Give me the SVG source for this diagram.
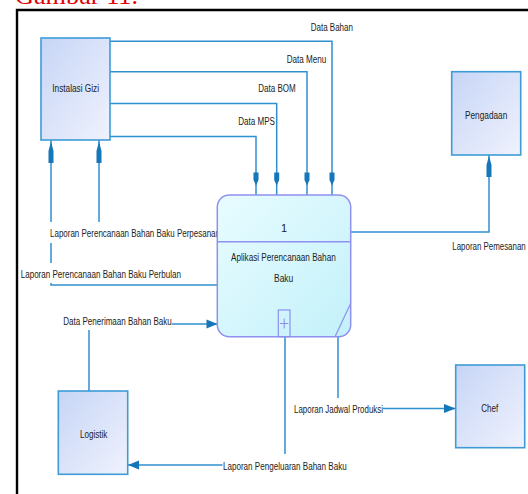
<svg xmlns="http://www.w3.org/2000/svg" width="528" height="494" viewBox="0 0 528 494">
<style>
.t{font-family:"Liberation Sans",Arial,sans-serif;font-size:11px;fill:#222}
.c{fill:none;stroke:#2f90d0;stroke-width:1.5}
.ah{fill:#1576b8}
.ent{stroke:#3e9bd6;stroke-width:1.6;fill:url(#ge)}
.bg{fill:#fff}
</style>
<defs>
<linearGradient id="ge" x1="0" y1="0" x2="1" y2="1">
<stop offset="0" stop-color="#c6d5f6"/>
<stop offset="1" stop-color="#f0f2fd"/>
</linearGradient>
<linearGradient id="gp" x1="0" y1="0" x2="1" y2="1">
<stop offset="0" stop-color="#e8fcff"/>
<stop offset="1" stop-color="#c3f1fa"/>
</linearGradient>
<clipPath id="cl"><rect x="40" y="215" width="177" height="30"/></clipPath>
</defs>
<rect width="528" height="494" fill="#fff"/>
<text x="15" y="4" font-family="'Liberation Serif',serif" font-size="25" fill="#e00000" textLength="123" lengthAdjust="spacingAndGlyphs">Gambar 11.</text>
<path d="M17,494 V10 H528" fill="none" stroke="#000" stroke-width="2.4"/>
<g id="connectors">
<path class="c" d="M110,41.3 H332 V196"/>
<path class="c" d="M110,71.7 H307 V196"/>
<path class="c" d="M110,103.5 H276.7 V196"/>
<path class="c" d="M110,136.5 H256 V196"/>
<path class="ah" d="M253.5,172.5 H258.5 V180 L256,185.5 L253.5,180 Z"/>
<path class="ah" d="M274.2,172.5 H279.2 V180 L276.7,185.5 L274.2,180 Z"/>
<path class="ah" d="M304.5,172.5 H309.5 V180 L307,185.5 L304.5,180 Z"/>
<path class="ah" d="M329.5,172.5 H334.5 V180 L332,185.5 L329.5,180 Z"/>
<path class="c" d="M217,234 H99 V140"/>
<path class="ah" d="M99,141.5 L101.5,151 V163 H96.5 V151 Z"/>
<path class="c" d="M217,285 H51 V140"/>
<path class="ah" d="M51,141.5 L53.5,151 V163 H48.5 V151 Z"/>
<path class="c" d="M89,392 V324 H217"/>
<path class="ah" d="M217.5,324 L206.5,319.5 V328.5 Z"/>
<path class="c" d="M351,232 H489 V155"/>
<path class="ah" d="M489,156 L491.5,165 V177 H486.5 V165 Z"/>
<path class="c" d="M338,337 V408.5 H455"/>
<path class="ah" d="M455.5,408.5 L444,404 V413 Z"/>
<path class="c" d="M285,337 V465 H128"/>
<path class="ah" d="M128,465 L139,460.5 V469.5 Z"/>
<rect class="bg" x="47" y="222" width="171" height="21"/>
<text class="t" x="50" y="236.5" textLength="170" lengthAdjust="spacingAndGlyphs" clip-path="url(#cl)">Laporan Perencanaan Bahan Baku Perpesanan</text>
<rect class="bg" x="19" y="263" width="164" height="20"/>
<text class="t" x="20.7" y="278" textLength="160.3" lengthAdjust="spacingAndGlyphs">Laporan Perencanaan Bahan Baku Perbulan</text>
<rect class="bg" x="62" y="313" width="110" height="17"/>
<text class="t" x="63.3" y="324.5" textLength="108.4" lengthAdjust="spacingAndGlyphs">Data Penerimaan Bahan Baku</text>
<rect class="bg" x="222.5" y="454" width="125" height="20"/>
<text class="t" x="223" y="470" textLength="123.7" lengthAdjust="spacingAndGlyphs">Laporan Pengeluaran Bahan Baku</text>
<rect class="bg" x="293" y="398" width="90" height="20"/>
<text class="t" x="294" y="413" textLength="89" lengthAdjust="spacingAndGlyphs">Laporan Jadwal Produksi</text>
<text class="t" x="452.3" y="250" textLength="73.4" lengthAdjust="spacingAndGlyphs">Laporan Pemesanan</text>
<text class="t" x="310.7" y="31" textLength="42.3" lengthAdjust="spacingAndGlyphs">Data Bahan</text>
<text class="t" x="286.7" y="62.5" textLength="39.6" lengthAdjust="spacingAndGlyphs">Data Menu</text>
<text class="t" x="258.3" y="92" textLength="37.4" lengthAdjust="spacingAndGlyphs">Data BOM</text>
<text class="t" x="238.3" y="124.5" textLength="36.7" lengthAdjust="spacingAndGlyphs">Data MPS</text>
</g>
<g id="instalasi-gizi">
<rect class="ent" x="41" y="38" width="69" height="102"/>
<text class="t" x="52.3" y="92" textLength="46.7" lengthAdjust="spacingAndGlyphs">Instalasi Gizi</text>
</g>
<g id="pengadaan">
<rect class="ent" x="451.7" y="71.7" width="69" height="83.3"/>
<text class="t" x="465" y="119" textLength="42.3" lengthAdjust="spacingAndGlyphs">Pengadaan</text>
</g>
<g id="logistik">
<rect class="ent" x="58.3" y="391" width="69.4" height="83.3"/>
<text class="t" x="80" y="438" textLength="27.3" lengthAdjust="spacingAndGlyphs">Logistik</text>
</g>
<g id="chef">
<rect class="ent" x="455.7" y="365" width="69" height="82.7"/>
<text class="t" x="481.3" y="411.5" textLength="17" lengthAdjust="spacingAndGlyphs">Chef</text>
</g>
<g id="process-1">
<rect x="217.3" y="195" width="133.4" height="141.7" rx="12" fill="url(#gp)" stroke="#9090f0" stroke-width="1.5"/>
<line x1="217.3" y1="241.7" x2="350.7" y2="241.7" stroke="#9090f0" stroke-width="1.5"/>
<text class="t" x="284" y="232" text-anchor="middle">1</text>
<text class="t" x="231" y="260.5" textLength="104.7" lengthAdjust="spacingAndGlyphs">Aplikasi Perencanaan Bahan</text>
<text class="t" x="274" y="282" textLength="19.3" lengthAdjust="spacingAndGlyphs">Baku</text>
<rect x="278.3" y="310" width="11.7" height="26.7" fill="none" stroke="#9090f0" stroke-width="1.2"/>
<path d="M284.2,318.5 V328.5 M280,323.5 H288.4" stroke="#9090f0" stroke-width="1.1"/>
<line x1="335" y1="336.7" x2="350.7" y2="303.3" stroke="#9090f0" stroke-width="1.2"/>
</g>
</svg>
